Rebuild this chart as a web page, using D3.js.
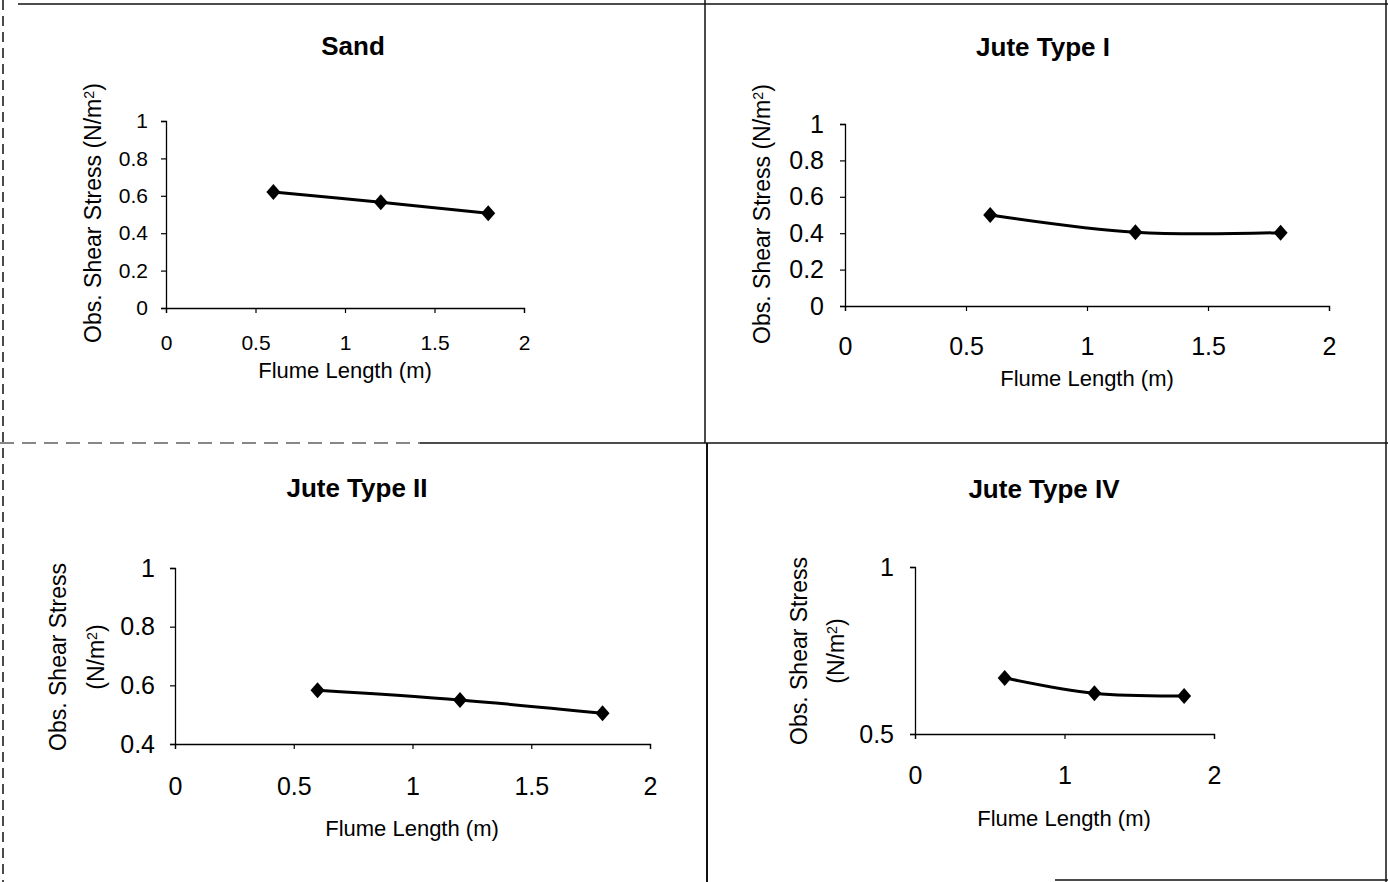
<!DOCTYPE html>
<meta charset="utf-8">
<title>Obs. Shear Stress vs Flume Length</title>
<script src="https://d3js.org/d3.v7.min.js"></script>
<style>
  body { margin: 0; background: #fff; }
  text { font-family: "Liberation Sans", Arial, sans-serif; fill: #000; }
</style>
<body>
</body>
<script>
  // data
  const flumeLength = [0.6, 1.2, 1.8];
  const sandStress = [0.62, 0.565, 0.507];
  const juteIStress = [0.5, 0.405, 0.403];
  const juteIIStress = [0.583, 0.55, 0.505];
  const juteIVStress = [0.668, 0.622, 0.614];

  const xTicksHalf = [0, 0.5, 1, 1.5, 2];
  const xTicksWhole = [0, 1, 2];
  const yTicksFull = [0, 0.2, 0.4, 0.6, 0.8, 1];
  const yTicksJuteII = [0.4, 0.6, 0.8, 1];
  const yTicksJuteIV = [0.5, 1];

  const width = 1388, height = 882;

  const panels = [
    {title: "Sand", values: sandStress, yDomain: [0, 1], yTicks: yTicksFull, xTicks: xTicksHalf,
     box: [166, 524, 121, 308], tickFont: 21, xPad: 22, yPad: 13,
     titleX: 353, titleY: 55, xLabelX: 345, xLabelY: 378,
     yLabel: [{x: 93, y: 213}], twoLine: false},
    {title: "Jute Type I", values: juteIStress, yDomain: [0, 1], yTicks: yTicksFull, xTicks: xTicksHalf,
     box: [845, 1329, 124, 306], tickFont: 25, xPad: 26, yPad: 16,
     titleX: 1043, titleY: 56, xLabelX: 1087, xLabelY: 386,
     yLabel: [{x: 762, y: 214}], twoLine: false},
    {title: "Jute Type II", values: juteIIStress, yDomain: [0.4, 1], yTicks: yTicksJuteII, xTicks: xTicksHalf,
     box: [175, 650, 568, 744], tickFont: 25, xPad: 28, yPad: 15,
     titleX: 357, titleY: 497, xLabelX: 412, xLabelY: 836,
     yLabel: [{x: 58, y: 657}, {x: 96, y: 657}], twoLine: true},
    {title: "Jute Type IV", values: juteIVStress, yDomain: [0.5, 1], yTicks: yTicksJuteIV, xTicks: xTicksWhole,
     box: [915, 1214, 567, 734], tickFont: 25, xPad: 27, yPad: 16,
     titleX: 1044, titleY: 498, xLabelX: 1064, xLabelY: 826,
     yLabel: [{x: 799, y: 651}, {x: 836, y: 651}], twoLine: true}
  ];

  const svg = d3.select("body").append("svg").attr("width", width).attr("height", height);

  ////////////////////////////////////////////////////////////
  ///////////////////////// Frame ////////////////////////////
  ////////////////////////////////////////////////////////////

  const frame = svg.append("g").attr("stroke", "#111").attr("fill", "none");
  frame.append("line").attr("x1", 18).attr("y1", 4).attr("x2", width).attr("y2", 4).attr("stroke-width", 1.5);
  frame.append("line").attr("x1", 3).attr("y1", 0).attr("x2", 3).attr("y2", height)
      .attr("stroke-width", 1.5).attr("stroke-dasharray", "10 6");
  frame.append("line").attr("x1", 705).attr("y1", 0).attr("x2", 705).attr("y2", 443).attr("stroke-width", 1.5);
  frame.append("line").attr("x1", 707).attr("y1", 443).attr("x2", 707).attr("y2", height).attr("stroke-width", 2);
  frame.append("line").attr("x1", 0).attr("y1", 443).attr("x2", 420).attr("y2", 443)
      .attr("stroke-width", 1.2).attr("stroke-dasharray", "14 8");
  frame.append("line").attr("x1", 420).attr("y1", 443).attr("x2", width).attr("y2", 443).attr("stroke-width", 1.3);
  frame.append("line").attr("x1", 1386).attr("y1", 0).attr("x2", 1386).attr("y2", height).attr("stroke-width", 1.5);
  frame.append("line").attr("x1", 1055).attr("y1", 880).attr("x2", width).attr("y2", 880).attr("stroke-width", 1.5);

  ////////////////////////////////////////////////////////////
  ///////////////////////// Panels ///////////////////////////
  ////////////////////////////////////////////////////////////

  const diamond = "M0,-8L7,0L0,8L-7,0Z";

  panels.forEach(p => {
    const [left, right, top, bottom] = p.box;
    const x = d3.scaleLinear().domain([0, 2]).range([left, right]);
    const y = d3.scaleLinear().domain(p.yDomain).range([bottom, top]);
    const g = svg.append("g");

    const xAxis = g.append("g")
        .attr("transform", `translate(0,${bottom})`)
        .call(d3.axisBottom(x).tickValues(p.xTicks).tickSize(5).tickPadding(p.xPad).tickFormat(d3.format("~g")));
    const yAxis = g.append("g")
        .attr("transform", `translate(${left},0)`)
        .call(d3.axisLeft(y).tickValues(p.yTicks).tickSize(5).tickPadding(p.yPad).tickFormat(d3.format("~g")));

    [xAxis, yAxis].forEach(a => {
      a.select(".domain").attr("stroke", "#000").attr("stroke-width", 1.3);
      a.selectAll(".tick line").attr("stroke", "#000").attr("stroke-width", 1.2);
      a.selectAll(".tick text").attr("font-size", p.tickFont).attr("font-family", "Liberation Sans, Arial, sans-serif");
    });

    const pts = flumeLength.map((d, i) => [d, p.values[i]]);

    g.append("path")
        .datum(pts)
        .attr("fill", "none")
        .attr("stroke", "#000")
        .attr("stroke-width", 3)
        .attr("d", d3.line().x(d => x(d[0])).y(d => y(d[1])).curve(d3.curveCatmullRom));

    g.selectAll(".marker")
      .data(pts)
      .join("path")
        .attr("class", "marker")
        .attr("d", diamond)
        .attr("transform", d => `translate(${x(d[0])},${y(d[1])})`)
        .attr("fill", "#000");

    g.append("text")
        .attr("x", p.titleX).attr("y", p.titleY)
        .attr("text-anchor", "middle")
        .attr("font-size", 26).attr("font-weight", "bold")
        .text(p.title);

    g.append("text")
        .attr("x", p.xLabelX).attr("y", p.xLabelY)
        .attr("text-anchor", "middle")
        .attr("font-size", 22)
        .text("Flume Length (m)");

    // rotated y label, with superscript 2
    const unitLabel = (t, prefix) => {
      if (prefix) t.append("tspan").text(prefix);
      t.append("tspan").text("(N/m");
      t.append("tspan").attr("dy", "-0.5em").attr("font-size", "0.62em").text("2");
      t.append("tspan").attr("dy", "0.31em").text(")");
    };

    if (!p.twoLine) {
      const t = g.append("text")
          .attr("transform", `translate(${p.yLabel[0].x},${p.yLabel[0].y}) rotate(-90)`)
          .attr("text-anchor", "middle").attr("dy", "0.35em")
          .attr("font-size", 23);
      unitLabel(t, "Obs. Shear Stress ");
    } else {
      g.append("text")
          .attr("transform", `translate(${p.yLabel[0].x},${p.yLabel[0].y}) rotate(-90)`)
          .attr("text-anchor", "middle").attr("dy", "0.35em")
          .attr("font-size", 23)
          .text("Obs. Shear Stress");
      const t = g.append("text")
          .attr("transform", `translate(${p.yLabel[1].x},${p.yLabel[1].y}) rotate(-90)`)
          .attr("text-anchor", "middle").attr("dy", "0.35em")
          .attr("font-size", 23);
      unitLabel(t, null);
    }
  });
</script>
